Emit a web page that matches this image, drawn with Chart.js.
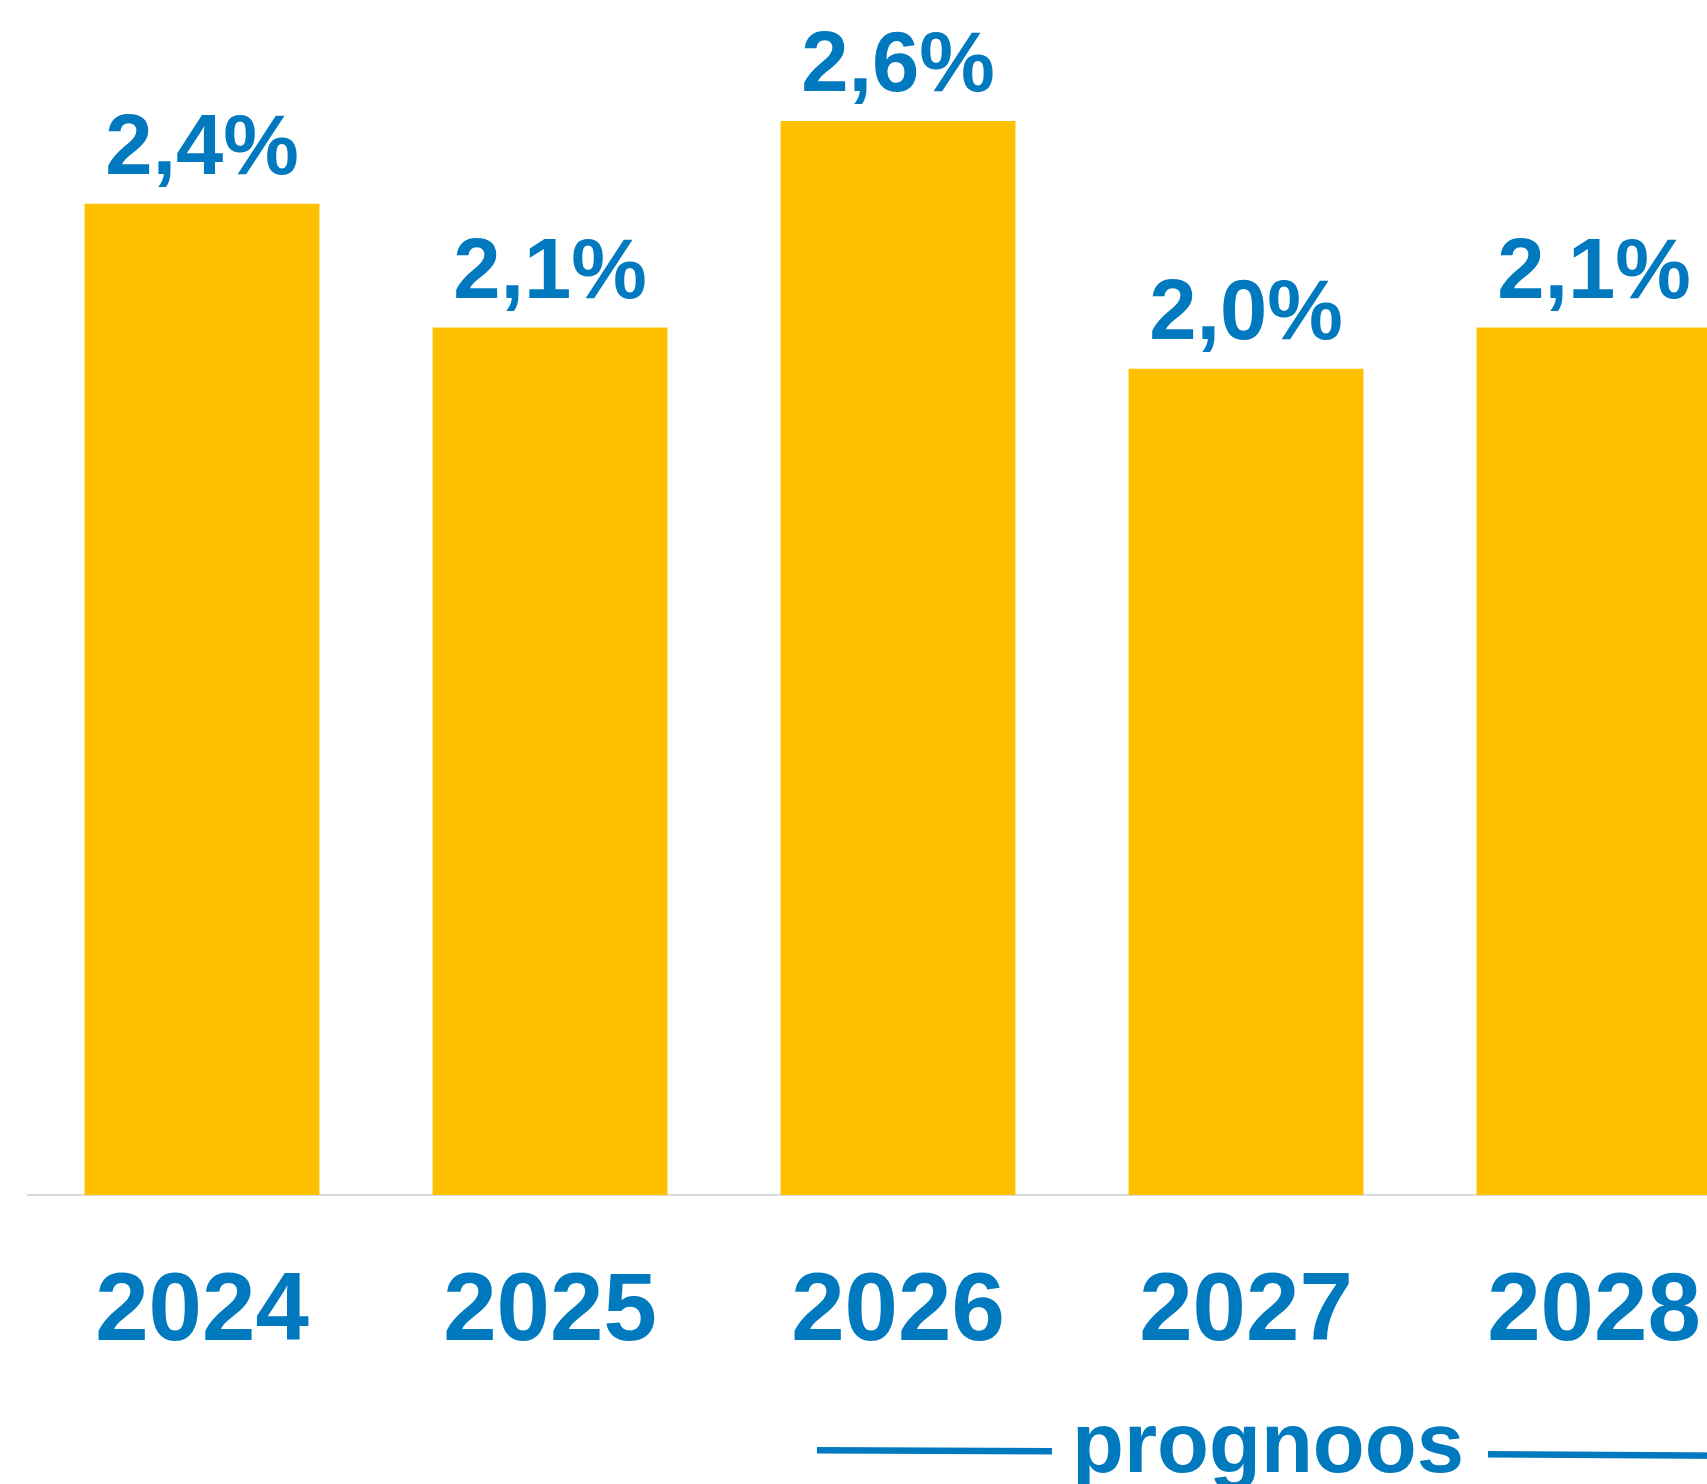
<!DOCTYPE html>
<html>
<head>
<meta charset="utf-8">
<script src="https://cdn.jsdelivr.net/npm/chart.js@4.4.1/dist/chart.umd.min.js"></script>
<style>
  html, body { margin: 0; padding: 0; background: #ffffff; overflow: hidden; width: 1707px; height: 1484px; }
  #wrap { position: absolute; left: 0; top: 0; width: 1768px; height: 1484px; }
</style>
</head>
<body>
<div id="wrap"><canvas id="c" width="1768" height="1484"></canvas></div>
<script>
const categories = ['2024', '2025', '2026', '2027', '2028'];
const values = [2.4, 2.1, 2.6, 2.0, 2.1];
const valueLabels = ['2,4%', '2,1%', '2,6%', '2,0%', '2,1%'];
const annotationText = 'prognoos';

const BLUE = '#0079BF';
const GOLD = '#FFC000';
const FONT = '"Liberation Sans", Arial, sans-serif';

const labelPlugin = {
  id: 'labels',
  afterDatasetsDraw(chart) {
    const ctx = chart.ctx;
    const meta = chart.getDatasetMeta(0);
    ctx.save();
    ctx.fillStyle = BLUE;
    ctx.font = 'bold 85px ' + FONT;
    ctx.textAlign = 'center';
    ctx.textBaseline = 'alphabetic';
    meta.data.forEach((bar, i) => {
      ctx.fillText(valueLabels[i], bar.x, bar.y - 30);
    });
    // forecast annotation
    ctx.font = 'bold 85px ' + FONT;
    ctx.fillText(annotationText, 1268, 1472);
    ctx.strokeStyle = BLUE;
    ctx.lineWidth = 6.5;
    ctx.beginPath();
    ctx.moveTo(817, 1450.3);
    ctx.lineTo(1052, 1451.2);
    ctx.stroke();
    ctx.beginPath();
    ctx.moveTo(1488, 1454.3);
    ctx.lineTo(1768, 1456);
    ctx.stroke();
    ctx.restore();
  }
};

new Chart(document.getElementById('c'), {
  type: 'bar',
  data: {
    labels: categories,
    datasets: [{
      data: values,
      backgroundColor: GOLD,
      borderWidth: 0,
      categoryPercentage: 1.0,
      barPercentage: 0.675
    }]
  },
  options: {
    responsive: false,
    animation: false,
    devicePixelRatio: 1,
    layout: { padding: { left: 28, right: 0, top: 0, bottom: 0 } },
    plugins: { legend: { display: false }, tooltip: { enabled: false } },
    scales: {
      x: {
        grid: { display: false, drawTicks: false },
        border: { display: true, color: '#D9D9D9', width: 2 },
        ticks: {
          color: BLUE,
          font: { family: FONT, size: 96, weight: 'bold' },
          padding: 61,
          maxRotation: 0,
          autoSkip: false
        },
        afterFit(scale) { scale.height = 1484 - 1195; }
      },
      y: {
        display: false,
        min: 0,
        max: 2.893
      }
    }
  },
  plugins: [labelPlugin]
});
</script>
</body>
</html>
